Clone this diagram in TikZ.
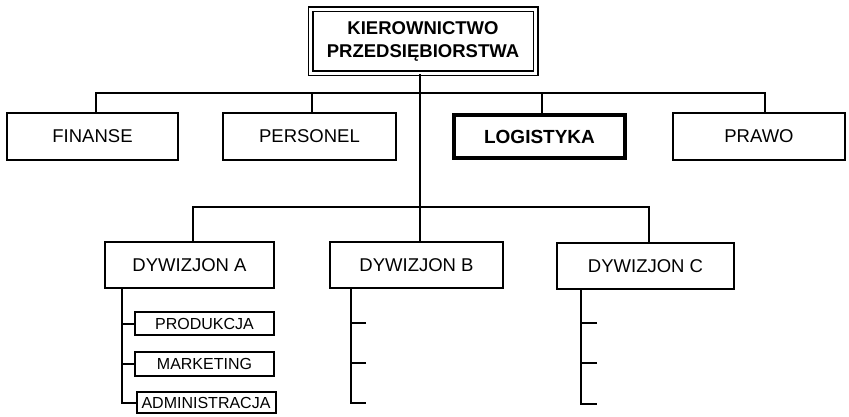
\documentclass[tikz,border=0pt]{standalone}
\usepackage{fontspec}
\setmainfont{Liberation Sans}
\begin{document}
\begin{tikzpicture}[x=1pt,y=-1pt,
  box/.style={draw,line width=2pt,inner sep=0pt,font=\fontsize{18.5}{21}\selectfont},
  bigbox/.style={box,minimum height=46pt},
  subbox/.style={box,minimum width=139pt,font=\fontsize{16}{18}\selectfont},
  conn/.style={line width=2pt}]
\useasboundingbox (0,0) rectangle (849,417);
% top
\node[box,double,double distance=2.4pt,line width=1.8pt,minimum width=225pt,minimum height=64pt,
  align=center,font=\bfseries\fontsize{18.5}{22.5}\selectfont] (top) at (423,41.5)
  {KIEROWNICTWO\\PRZEDSIĘBIORSTWA};
% first row
\node[bigbox,minimum width=171pt,minimum height=47pt] (fin) at (92.5,136.5) {FINANSE};
\node[bigbox,minimum width=173pt,minimum height=47pt] (per) at (309.5,136.5) {PERSONEL};
\node[bigbox,line width=4.5pt,minimum width=171pt,minimum height=43pt,font=\bfseries\fontsize{19}{21}\selectfont] (log) at (539.5,136.5) {LOGISTYKA};
\node[bigbox,minimum width=172pt,minimum height=47pt] (pra) at (759,136.5) {PRAWO};
% second row
\node[bigbox,minimum width=169pt] (da) at (189.5,265) {DYWIZJON A};
\node[bigbox,minimum width=173pt] (db) at (416.5,265) {DYWIZJON B};
\node[bigbox,minimum width=177pt] (dc) at (645.5,266) {DYWIZJON C};
% subunits of A
\node[subbox,minimum height=23pt] (prod) at (204.5,323.5) {PRODUKCJA};
\node[subbox,minimum height=24pt] (mark) at (204.5,364) {MARKETING};
\node[subbox,minimum height=21pt] (adm) at (206,402.5) {ADMINISTRACJA};
% connectors: top level
\coordinate (busA) at (420,93);
\coordinate (busB) at (420,207);
\draw[conn] (top.south -| busA) -- (busB);
\draw[conn] ([xshift=3.5pt]fin.north) |- (busA);
\draw[conn] ([xshift=5.5pt]pra.north) |- (busA);
\draw[conn] ([xshift=2.5pt]per.north) -- ([xshift=2.5pt]per.north |- busA);
\draw[conn] ([xshift=2.5pt]log.north) -- ([xshift=2.5pt]log.north |- busA);
% second level
\draw[conn] ([xshift=3.5pt]da.north) |- (busB);
\draw[conn] ([xshift=3.5pt]dc.north) |- (busB);
\draw[conn] ([xshift=3.5pt]db.north) -- (busB);
% A subtree
\coordinate (aTop) at (122,288);
\draw[conn] (da.south -| aTop) |- (adm.west);
\draw[conn] (prod.west) -- (prod.west -| aTop);
\draw[conn] (mark.west) -- (mark.west -| aTop);
% B subtree (empty)
\coordinate (b1) at (366,323);
\coordinate (b2) at (366,363);
\coordinate (b3) at (366,403);
\draw[conn] (db.south -| 351,0) |- (b3);
\draw[conn] (b1) -- (b1 -| 351,0);
\draw[conn] (b2) -- (b2 -| 351,0);
% C subtree (empty)
\coordinate (c1) at (597,323);
\coordinate (c2) at (597,363);
\coordinate (c3) at (597,404);
\draw[conn] (dc.south -| 581,0) |- (c3);
\draw[conn] (c1) -- (c1 -| 581,0);
\draw[conn] (c2) -- (c2 -| 581,0);
\end{tikzpicture}
\end{document}
